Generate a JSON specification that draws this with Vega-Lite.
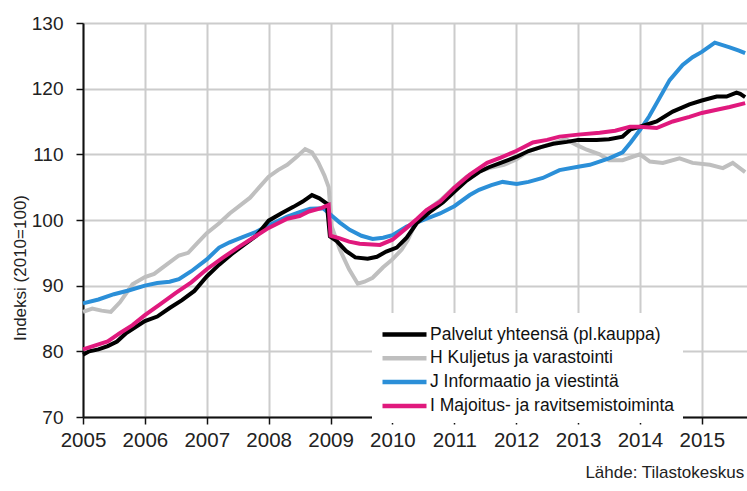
{
  "$schema": "https://vega.github.io/schema/vega-lite/v6.json",
  "autosize": {"type": "none"},
  "padding": {"left": 83, "top": 23, "right": 0, "bottom": 74},
  "width": 664,
  "height": 394,
  "background": "white",
  "config": {
    "font": "Liberation Sans",
    "view": {"stroke": null},
    "axis": {"labelFont": "Liberation Sans", "titleFont": "Liberation Sans", "labelColor": "#222222", "titleColor": "#222222"}
  },
  "title": {
    "text": "Lähde: Tilastokeskus",
    "orient": "bottom",
    "anchor": "end",
    "fontSize": 17,
    "fontWeight": "normal",
    "font": "Liberation Sans",
    "color": "#222222",
    "offset": 14,
    "dx": -9
  },
  "data": {
    "values": [
      {"s": "Palvelut yhteensä  (pl.kauppa)", "t": 2005.0, "v": 79.5},
      {"s": "Palvelut yhteensä  (pl.kauppa)", "t": 2005.1, "v": 80.0},
      {"s": "Palvelut yhteensä  (pl.kauppa)", "t": 2005.25, "v": 80.3},
      {"s": "Palvelut yhteensä  (pl.kauppa)", "t": 2005.4, "v": 80.8},
      {"s": "Palvelut yhteensä  (pl.kauppa)", "t": 2005.55, "v": 81.5},
      {"s": "Palvelut yhteensä  (pl.kauppa)", "t": 2005.7, "v": 82.8},
      {"s": "Palvelut yhteensä  (pl.kauppa)", "t": 2005.85, "v": 83.7},
      {"s": "Palvelut yhteensä  (pl.kauppa)", "t": 2006.0, "v": 84.6},
      {"s": "Palvelut yhteensä  (pl.kauppa)", "t": 2006.2, "v": 85.3},
      {"s": "Palvelut yhteensä  (pl.kauppa)", "t": 2006.4, "v": 86.6},
      {"s": "Palvelut yhteensä  (pl.kauppa)", "t": 2006.6, "v": 87.8},
      {"s": "Palvelut yhteensä  (pl.kauppa)", "t": 2006.8, "v": 89.2},
      {"s": "Palvelut yhteensä  (pl.kauppa)", "t": 2007.0, "v": 91.4},
      {"s": "Palvelut yhteensä  (pl.kauppa)", "t": 2007.2, "v": 93.2},
      {"s": "Palvelut yhteensä  (pl.kauppa)", "t": 2007.4, "v": 94.8},
      {"s": "Palvelut yhteensä  (pl.kauppa)", "t": 2007.6, "v": 96.2},
      {"s": "Palvelut yhteensä  (pl.kauppa)", "t": 2007.8, "v": 97.6},
      {"s": "Palvelut yhteensä  (pl.kauppa)", "t": 2008.0, "v": 99.9},
      {"s": "Palvelut yhteensä  (pl.kauppa)", "t": 2008.2, "v": 101.0},
      {"s": "Palvelut yhteensä  (pl.kauppa)", "t": 2008.4, "v": 102.0},
      {"s": "Palvelut yhteensä  (pl.kauppa)", "t": 2008.55, "v": 102.8},
      {"s": "Palvelut yhteensä  (pl.kauppa)", "t": 2008.7, "v": 103.8},
      {"s": "Palvelut yhteensä  (pl.kauppa)", "t": 2008.82, "v": 103.3},
      {"s": "Palvelut yhteensä  (pl.kauppa)", "t": 2008.94, "v": 102.5},
      {"s": "Palvelut yhteensä  (pl.kauppa)", "t": 2008.99, "v": 97.5},
      {"s": "Palvelut yhteensä  (pl.kauppa)", "t": 2009.1, "v": 96.8},
      {"s": "Palvelut yhteensä  (pl.kauppa)", "t": 2009.25, "v": 95.3},
      {"s": "Palvelut yhteensä  (pl.kauppa)", "t": 2009.4, "v": 94.3},
      {"s": "Palvelut yhteensä  (pl.kauppa)", "t": 2009.6, "v": 94.1},
      {"s": "Palvelut yhteensä  (pl.kauppa)", "t": 2009.75, "v": 94.4},
      {"s": "Palvelut yhteensä  (pl.kauppa)", "t": 2009.9, "v": 95.2},
      {"s": "Palvelut yhteensä  (pl.kauppa)", "t": 2010.07, "v": 95.8},
      {"s": "Palvelut yhteensä  (pl.kauppa)", "t": 2010.23, "v": 97.3},
      {"s": "Palvelut yhteensä  (pl.kauppa)", "t": 2010.4, "v": 99.6},
      {"s": "Palvelut yhteensä  (pl.kauppa)", "t": 2010.6, "v": 101.2},
      {"s": "Palvelut yhteensä  (pl.kauppa)", "t": 2010.82, "v": 102.7},
      {"s": "Palvelut yhteensä  (pl.kauppa)", "t": 2011.0, "v": 104.3},
      {"s": "Palvelut yhteensä  (pl.kauppa)", "t": 2011.2, "v": 106.0},
      {"s": "Palvelut yhteensä  (pl.kauppa)", "t": 2011.4, "v": 107.3},
      {"s": "Palvelut yhteensä  (pl.kauppa)", "t": 2011.55, "v": 108.0},
      {"s": "Palvelut yhteensä  (pl.kauppa)", "t": 2011.75, "v": 108.7},
      {"s": "Palvelut yhteensä  (pl.kauppa)", "t": 2012.0, "v": 109.6},
      {"s": "Palvelut yhteensä  (pl.kauppa)", "t": 2012.2, "v": 110.5},
      {"s": "Palvelut yhteensä  (pl.kauppa)", "t": 2012.4, "v": 111.1},
      {"s": "Palvelut yhteensä  (pl.kauppa)", "t": 2012.6, "v": 111.6},
      {"s": "Palvelut yhteensä  (pl.kauppa)", "t": 2012.82, "v": 111.9},
      {"s": "Palvelut yhteensä  (pl.kauppa)", "t": 2013.0, "v": 112.2},
      {"s": "Palvelut yhteensä  (pl.kauppa)", "t": 2013.3, "v": 112.2},
      {"s": "Palvelut yhteensä  (pl.kauppa)", "t": 2013.5, "v": 112.3},
      {"s": "Palvelut yhteensä  (pl.kauppa)", "t": 2013.72, "v": 112.7},
      {"s": "Palvelut yhteensä  (pl.kauppa)", "t": 2013.85, "v": 113.8},
      {"s": "Palvelut yhteensä  (pl.kauppa)", "t": 2014.0, "v": 114.2},
      {"s": "Palvelut yhteensä  (pl.kauppa)", "t": 2014.27, "v": 115.0},
      {"s": "Palvelut yhteensä  (pl.kauppa)", "t": 2014.53, "v": 116.5},
      {"s": "Palvelut yhteensä  (pl.kauppa)", "t": 2014.8, "v": 117.6},
      {"s": "Palvelut yhteensä  (pl.kauppa)", "t": 2015.0, "v": 118.2},
      {"s": "Palvelut yhteensä  (pl.kauppa)", "t": 2015.24, "v": 118.8},
      {"s": "Palvelut yhteensä  (pl.kauppa)", "t": 2015.4, "v": 118.8},
      {"s": "Palvelut yhteensä  (pl.kauppa)", "t": 2015.56, "v": 119.4},
      {"s": "Palvelut yhteensä  (pl.kauppa)", "t": 2015.62, "v": 119.2},
      {"s": "Palvelut yhteensä  (pl.kauppa)", "t": 2015.7, "v": 118.7},

      {"s": "H Kuljetus ja varastointi", "t": 2005.0, "v": 86.0},
      {"s": "H Kuljetus ja varastointi", "t": 2005.15, "v": 86.5},
      {"s": "H Kuljetus ja varastointi", "t": 2005.3, "v": 86.2},
      {"s": "H Kuljetus ja varastointi", "t": 2005.45, "v": 86.0},
      {"s": "H Kuljetus ja varastointi", "t": 2005.6, "v": 87.5},
      {"s": "H Kuljetus ja varastointi", "t": 2005.8, "v": 90.2},
      {"s": "H Kuljetus ja varastointi", "t": 2006.0, "v": 91.3},
      {"s": "H Kuljetus ja varastointi", "t": 2006.15, "v": 91.8},
      {"s": "H Kuljetus ja varastointi", "t": 2006.35, "v": 93.2},
      {"s": "H Kuljetus ja varastointi", "t": 2006.55, "v": 94.6},
      {"s": "H Kuljetus ja varastointi", "t": 2006.7, "v": 95.0},
      {"s": "H Kuljetus ja varastointi", "t": 2006.85, "v": 96.5},
      {"s": "H Kuljetus ja varastointi", "t": 2007.0, "v": 98.0},
      {"s": "H Kuljetus ja varastointi", "t": 2007.2, "v": 99.5},
      {"s": "H Kuljetus ja varastointi", "t": 2007.37, "v": 101.0},
      {"s": "H Kuljetus ja varastointi", "t": 2007.55, "v": 102.3},
      {"s": "H Kuljetus ja varastointi", "t": 2007.7, "v": 103.4},
      {"s": "H Kuljetus ja varastointi", "t": 2007.85, "v": 105.0},
      {"s": "H Kuljetus ja varastointi", "t": 2008.0, "v": 106.6},
      {"s": "H Kuljetus ja varastointi", "t": 2008.15, "v": 107.6},
      {"s": "H Kuljetus ja varastointi", "t": 2008.3, "v": 108.4},
      {"s": "H Kuljetus ja varastointi", "t": 2008.45, "v": 109.6},
      {"s": "H Kuljetus ja varastointi", "t": 2008.59, "v": 110.8},
      {"s": "H Kuljetus ja varastointi", "t": 2008.7, "v": 110.3},
      {"s": "H Kuljetus ja varastointi", "t": 2008.8, "v": 108.8},
      {"s": "H Kuljetus ja varastointi", "t": 2008.9, "v": 106.8},
      {"s": "H Kuljetus ja varastointi", "t": 2008.97, "v": 105.0},
      {"s": "H Kuljetus ja varastointi", "t": 2009.02, "v": 99.0},
      {"s": "H Kuljetus ja varastointi", "t": 2009.15, "v": 95.5},
      {"s": "H Kuljetus ja varastointi", "t": 2009.3, "v": 92.5},
      {"s": "H Kuljetus ja varastointi", "t": 2009.44, "v": 90.3},
      {"s": "H Kuljetus ja varastointi", "t": 2009.55, "v": 90.6},
      {"s": "H Kuljetus ja varastointi", "t": 2009.68, "v": 91.2},
      {"s": "H Kuljetus ja varastointi", "t": 2009.85, "v": 92.8},
      {"s": "H Kuljetus ja varastointi", "t": 2010.0, "v": 94.0},
      {"s": "H Kuljetus ja varastointi", "t": 2010.15, "v": 95.5},
      {"s": "H Kuljetus ja varastointi", "t": 2010.25, "v": 97.0},
      {"s": "H Kuljetus ja varastointi", "t": 2010.4, "v": 100.0},
      {"s": "H Kuljetus ja varastointi", "t": 2010.6, "v": 101.8},
      {"s": "H Kuljetus ja varastointi", "t": 2010.8, "v": 103.2},
      {"s": "H Kuljetus ja varastointi", "t": 2011.0, "v": 105.0},
      {"s": "H Kuljetus ja varastointi", "t": 2011.2, "v": 106.6},
      {"s": "H Kuljetus ja varastointi", "t": 2011.4, "v": 107.4},
      {"s": "H Kuljetus ja varastointi", "t": 2011.6, "v": 108.0},
      {"s": "H Kuljetus ja varastointi", "t": 2011.8, "v": 108.4},
      {"s": "H Kuljetus ja varastointi", "t": 2012.0, "v": 109.2},
      {"s": "H Kuljetus ja varastointi", "t": 2012.2, "v": 110.5},
      {"s": "H Kuljetus ja varastointi", "t": 2012.5, "v": 111.4},
      {"s": "H Kuljetus ja varastointi", "t": 2012.8, "v": 112.3},
      {"s": "H Kuljetus ja varastointi", "t": 2012.98, "v": 111.4},
      {"s": "H Kuljetus ja varastointi", "t": 2013.14, "v": 110.7},
      {"s": "H Kuljetus ja varastointi", "t": 2013.35, "v": 110.0},
      {"s": "H Kuljetus ja varastointi", "t": 2013.5, "v": 109.1},
      {"s": "H Kuljetus ja varastointi", "t": 2013.72, "v": 109.1},
      {"s": "H Kuljetus ja varastointi", "t": 2014.0, "v": 110.0},
      {"s": "H Kuljetus ja varastointi", "t": 2014.16, "v": 108.9},
      {"s": "H Kuljetus ja varastointi", "t": 2014.37, "v": 108.7},
      {"s": "H Kuljetus ja varastointi", "t": 2014.64, "v": 109.4},
      {"s": "H Kuljetus ja varastointi", "t": 2014.85, "v": 108.7},
      {"s": "H Kuljetus ja varastointi", "t": 2015.13, "v": 108.4},
      {"s": "H Kuljetus ja varastointi", "t": 2015.34, "v": 107.9},
      {"s": "H Kuljetus ja varastointi", "t": 2015.5, "v": 108.7},
      {"s": "H Kuljetus ja varastointi", "t": 2015.7, "v": 107.3},

      {"s": "J Informaatio ja viestintä", "t": 2005.0, "v": 87.3},
      {"s": "J Informaatio ja viestintä", "t": 2005.25, "v": 87.9},
      {"s": "J Informaatio ja viestintä", "t": 2005.5, "v": 88.7},
      {"s": "J Informaatio ja viestintä", "t": 2005.75, "v": 89.3},
      {"s": "J Informaatio ja viestintä", "t": 2006.0, "v": 90.0},
      {"s": "J Informaatio ja viestintä", "t": 2006.2, "v": 90.4},
      {"s": "J Informaatio ja viestintä", "t": 2006.4, "v": 90.6},
      {"s": "J Informaatio ja viestintä", "t": 2006.55, "v": 91.0},
      {"s": "J Informaatio ja viestintä", "t": 2006.75, "v": 92.2},
      {"s": "J Informaatio ja viestintä", "t": 2007.0, "v": 94.0},
      {"s": "J Informaatio ja viestintä", "t": 2007.2, "v": 95.8},
      {"s": "J Informaatio ja viestintä", "t": 2007.37, "v": 96.6},
      {"s": "J Informaatio ja viestintä", "t": 2007.58, "v": 97.4},
      {"s": "J Informaatio ja viestintä", "t": 2007.8, "v": 98.2},
      {"s": "J Informaatio ja viestintä", "t": 2008.0, "v": 99.2},
      {"s": "J Informaatio ja viestintä", "t": 2008.3, "v": 100.5},
      {"s": "J Informaatio ja viestintä", "t": 2008.5, "v": 101.2},
      {"s": "J Informaatio ja viestintä", "t": 2008.67, "v": 101.7},
      {"s": "J Informaatio ja viestintä", "t": 2008.88, "v": 101.8},
      {"s": "J Informaatio ja viestintä", "t": 2009.04, "v": 100.5},
      {"s": "J Informaatio ja viestintä", "t": 2009.15, "v": 99.6},
      {"s": "J Informaatio ja viestintä", "t": 2009.31, "v": 98.5},
      {"s": "J Informaatio ja viestintä", "t": 2009.5, "v": 97.6},
      {"s": "J Informaatio ja viestintä", "t": 2009.68, "v": 97.1},
      {"s": "J Informaatio ja viestintä", "t": 2009.85, "v": 97.3},
      {"s": "J Informaatio ja viestintä", "t": 2010.0, "v": 97.7},
      {"s": "J Informaatio ja viestintä", "t": 2010.23, "v": 99.0},
      {"s": "J Informaatio ja viestintä", "t": 2010.5, "v": 100.0},
      {"s": "J Informaatio ja viestintä", "t": 2010.77, "v": 101.0},
      {"s": "J Informaatio ja viestintä", "t": 2011.0, "v": 102.1},
      {"s": "J Informaatio ja viestintä", "t": 2011.25, "v": 103.8},
      {"s": "J Informaatio ja viestintä", "t": 2011.4, "v": 104.6},
      {"s": "J Informaatio ja viestintä", "t": 2011.6, "v": 105.3},
      {"s": "J Informaatio ja viestintä", "t": 2011.78, "v": 105.8},
      {"s": "J Informaatio ja viestintä", "t": 2012.01, "v": 105.5},
      {"s": "J Informaatio ja viestintä", "t": 2012.2, "v": 105.8},
      {"s": "J Informaatio ja viestintä", "t": 2012.43, "v": 106.4},
      {"s": "J Informaatio ja viestintä", "t": 2012.7, "v": 107.6},
      {"s": "J Informaatio ja viestintä", "t": 2013.0, "v": 108.1},
      {"s": "J Informaatio ja viestintä", "t": 2013.19, "v": 108.4},
      {"s": "J Informaatio ja viestintä", "t": 2013.5, "v": 109.4},
      {"s": "J Informaatio ja viestintä", "t": 2013.72, "v": 110.3},
      {"s": "J Informaatio ja viestintä", "t": 2013.85, "v": 111.8},
      {"s": "J Informaatio ja viestintä", "t": 2014.0, "v": 113.7},
      {"s": "J Informaatio ja viestintä", "t": 2014.15, "v": 115.8},
      {"s": "J Informaatio ja viestintä", "t": 2014.27, "v": 117.8},
      {"s": "J Informaatio ja viestintä", "t": 2014.48, "v": 121.3},
      {"s": "J Informaatio ja viestintä", "t": 2014.69, "v": 123.6},
      {"s": "J Informaatio ja viestintä", "t": 2014.85, "v": 124.8},
      {"s": "J Informaatio ja viestintä", "t": 2015.0, "v": 125.6},
      {"s": "J Informaatio ja viestintä", "t": 2015.12, "v": 126.4},
      {"s": "J Informaatio ja viestintä", "t": 2015.21, "v": 127.0},
      {"s": "J Informaatio ja viestintä", "t": 2015.45, "v": 126.3},
      {"s": "J Informaatio ja viestintä", "t": 2015.6, "v": 125.8},
      {"s": "J Informaatio ja viestintä", "t": 2015.7, "v": 125.4},

      {"s": "I Majoitus- ja ravitsemistoiminta", "t": 2005.0, "v": 80.3},
      {"s": "I Majoitus- ja ravitsemistoiminta", "t": 2005.2, "v": 80.9},
      {"s": "I Majoitus- ja ravitsemistoiminta", "t": 2005.4, "v": 81.5},
      {"s": "I Majoitus- ja ravitsemistoiminta", "t": 2005.6, "v": 82.8},
      {"s": "I Majoitus- ja ravitsemistoiminta", "t": 2005.8, "v": 84.0},
      {"s": "I Majoitus- ja ravitsemistoiminta", "t": 2006.0, "v": 85.5},
      {"s": "I Majoitus- ja ravitsemistoiminta", "t": 2006.25, "v": 87.2},
      {"s": "I Majoitus- ja ravitsemistoiminta", "t": 2006.5, "v": 88.9},
      {"s": "I Majoitus- ja ravitsemistoiminta", "t": 2006.75, "v": 90.5},
      {"s": "I Majoitus- ja ravitsemistoiminta", "t": 2007.0, "v": 92.5},
      {"s": "I Majoitus- ja ravitsemistoiminta", "t": 2007.25, "v": 94.2},
      {"s": "I Majoitus- ja ravitsemistoiminta", "t": 2007.5, "v": 95.8},
      {"s": "I Majoitus- ja ravitsemistoiminta", "t": 2007.75, "v": 97.3},
      {"s": "I Majoitus- ja ravitsemistoiminta", "t": 2008.0, "v": 98.8},
      {"s": "I Majoitus- ja ravitsemistoiminta", "t": 2008.3, "v": 100.2},
      {"s": "I Majoitus- ja ravitsemistoiminta", "t": 2008.5, "v": 100.6},
      {"s": "I Majoitus- ja ravitsemistoiminta", "t": 2008.65, "v": 101.3},
      {"s": "I Majoitus- ja ravitsemistoiminta", "t": 2008.85, "v": 101.8},
      {"s": "I Majoitus- ja ravitsemistoiminta", "t": 2008.97, "v": 102.3},
      {"s": "I Majoitus- ja ravitsemistoiminta", "t": 2009.0, "v": 97.6},
      {"s": "I Majoitus- ja ravitsemistoiminta", "t": 2009.15, "v": 97.2},
      {"s": "I Majoitus- ja ravitsemistoiminta", "t": 2009.3, "v": 96.7},
      {"s": "I Majoitus- ja ravitsemistoiminta", "t": 2009.47, "v": 96.4},
      {"s": "I Majoitus- ja ravitsemistoiminta", "t": 2009.8, "v": 96.2},
      {"s": "I Majoitus- ja ravitsemistoiminta", "t": 2010.0, "v": 97.0},
      {"s": "I Majoitus- ja ravitsemistoiminta", "t": 2010.23, "v": 98.8},
      {"s": "I Majoitus- ja ravitsemistoiminta", "t": 2010.4, "v": 100.2},
      {"s": "I Majoitus- ja ravitsemistoiminta", "t": 2010.55, "v": 101.5},
      {"s": "I Majoitus- ja ravitsemistoiminta", "t": 2010.77, "v": 102.8},
      {"s": "I Majoitus- ja ravitsemistoiminta", "t": 2011.0, "v": 104.9},
      {"s": "I Majoitus- ja ravitsemistoiminta", "t": 2011.25, "v": 106.9},
      {"s": "I Majoitus- ja ravitsemistoiminta", "t": 2011.53, "v": 108.7},
      {"s": "I Majoitus- ja ravitsemistoiminta", "t": 2011.75, "v": 109.5},
      {"s": "I Majoitus- ja ravitsemistoiminta", "t": 2012.0, "v": 110.5},
      {"s": "I Majoitus- ja ravitsemistoiminta", "t": 2012.27, "v": 111.8},
      {"s": "I Majoitus- ja ravitsemistoiminta", "t": 2012.5, "v": 112.2},
      {"s": "I Majoitus- ja ravitsemistoiminta", "t": 2012.7, "v": 112.7},
      {"s": "I Majoitus- ja ravitsemistoiminta", "t": 2013.0, "v": 113.0},
      {"s": "I Majoitus- ja ravitsemistoiminta", "t": 2013.35, "v": 113.3},
      {"s": "I Majoitus- ja ravitsemistoiminta", "t": 2013.6, "v": 113.6},
      {"s": "I Majoitus- ja ravitsemistoiminta", "t": 2013.84, "v": 114.2},
      {"s": "I Majoitus- ja ravitsemistoiminta", "t": 2014.0, "v": 114.2},
      {"s": "I Majoitus- ja ravitsemistoiminta", "t": 2014.27, "v": 114.0},
      {"s": "I Majoitus- ja ravitsemistoiminta", "t": 2014.53, "v": 115.0},
      {"s": "I Majoitus- ja ravitsemistoiminta", "t": 2014.8, "v": 115.7},
      {"s": "I Majoitus- ja ravitsemistoiminta", "t": 2015.0, "v": 116.3},
      {"s": "I Majoitus- ja ravitsemistoiminta", "t": 2015.24, "v": 116.8},
      {"s": "I Majoitus- ja ravitsemistoiminta", "t": 2015.45, "v": 117.2},
      {"s": "I Majoitus- ja ravitsemistoiminta", "t": 2015.7, "v": 117.8}
    ]
  },
  "encoding": {
    "x": {
      "field": "t",
      "type": "quantitative",
      "scale": {"domain": [2005, 2015.73], "nice": false, "zero": false},
      "axis": {
        "title": null,
        "values": [2005, 2006, 2007, 2008, 2009, 2010, 2011, 2012, 2013, 2014, 2015],
        "format": "d",
        "labelFontSize": 20.5,
        "labelPadding": 6,
        "tickSize": 7,
        "tickColor": "#111111",
        "tickWidth": 1.5,
        "domainColor": "#111111",
        "domainWidth": 2,
        "grid": true,
        "gridColor": "#cccccc",
        "gridWidth": 2,
        "labelFlush": false
      }
    },
    "y": {
      "field": "v",
      "type": "quantitative",
      "scale": {"domain": [70, 130], "nice": false, "zero": false},
      "axis": {
        "title": "Indeksi (2010=100)",
        "titleFontSize": 17,
        "titleFontWeight": "normal",
        "titleX": -62.5,
        "titleY": 244.5,
        "titleAngle": -90,
        "titleAlign": "center",
        "titleBaseline": "middle",
        "values": [70, 80, 90, 100, 110, 120, 130],
        "labelFontSize": 19,
        "labelPadding": 13,
        "tickSize": 7,
        "tickColor": "#111111",
        "tickWidth": 1.5,
        "domainColor": "#111111",
        "domainWidth": 2,
        "grid": true,
        "gridColor": "#cccccc",
        "gridWidth": 2
      }
    },
    "color": {
      "field": "s",
      "type": "nominal",
      "scale": {
        "domain": ["Palvelut yhteensä  (pl.kauppa)", "H Kuljetus ja varastointi", "J Informaatio ja viestintä", "I Majoitus- ja ravitsemistoiminta"],
        "range": ["#000000", "#bfbfbf", "#2b8fd8", "#e0197d"]
      },
      "legend": {
        "title": null,
        "orient": "none",
        "legendX": 289,
        "legendY": 290,
        "padding": 8,
        "fillColor": "white",
        "symbolType": "M-2,0H2",
        "symbolSize": 484,
        "symbolStrokeWidth": 4.5,
        "symbolOffset": 11,
        "labelOffset": 12,
        "labelFontSize": 17.5,
        "labelFont": "Liberation Sans",
        "labelColor": "#111111",
        "rowPadding": 0.8,
        "labelLimit": 400
      }
    }
  },
  "layer": [
    {"transform": [{"filter": "datum.s === 'H Kuljetus ja varastointi'"}], "mark": {"type": "line", "strokeWidth": 4}},
    {"transform": [{"filter": "datum.s === 'J Informaatio ja viestintä'"}], "mark": {"type": "line", "strokeWidth": 4}},
    {"transform": [{"filter": "datum.s === 'Palvelut yhteensä  (pl.kauppa)'"}], "mark": {"type": "line", "strokeWidth": 4}},
    {"transform": [{"filter": "datum.s === 'I Majoitus- ja ravitsemistoiminta'"}], "mark": {"type": "line", "strokeWidth": 4}}
  ]
}
